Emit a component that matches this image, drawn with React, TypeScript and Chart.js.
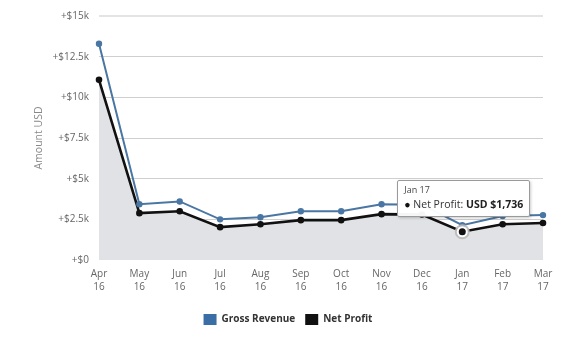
import React, { useEffect, useRef } from "react";
import { Chart, registerables } from "chart.js";

Chart.register(...registerables);

const categories: string[][] = [
  ["Apr", "16"], ["May", "16"], ["Jun", "16"], ["Jul", "16"], ["Aug", "16"], ["Sep", "16"],
  ["Oct", "16"], ["Nov", "16"], ["Dec", "16"], ["Jan", "17"], ["Feb", "17"], ["Mar", "17"],
];
const grossRevenue: number[] = [13290, 3430, 3600, 2500, 2630, 3000, 3000, 3430, 3400, 2140, 2700, 2760];
const netProfit: number[] = [11080, 2880, 3000, 2020, 2200, 2450, 2450, 2820, 2800, 1736, 2200, 2270];
const yTicks: number[] = [0, 2500, 5000, 7500, 10000, 12500, 15000];
const activeIndex = 9;

function fmtTick(v: number): string {
  if (v === 0) return "+$0";
  return "+$" + v / 1000 + "k";
}

const haloPlugin = {
  id: "halo",
  afterDatasetsDraw(chart: any) {
    const act = chart.getActiveElements();
    if (!act.length) return;
    const el = chart.getDatasetMeta(act[0].datasetIndex).data[act[0].index];
    const ctx = chart.ctx;
    ctx.save();
    ctx.beginPath();
    ctx.arc(el.x, el.y, 7.5, 0, Math.PI * 2);
    ctx.fillStyle = "rgba(185,185,185,0.9)";
    ctx.fill();
    ctx.beginPath();
    ctx.arc(el.x, el.y, 5.5, 0, Math.PI * 2);
    ctx.fillStyle = "#ffffff";
    ctx.fill();
    ctx.beginPath();
    ctx.arc(el.x, el.y, 3.5, 0, Math.PI * 2);
    ctx.fillStyle = "#111111";
    ctx.fill();
    ctx.restore();
  },
};

export default function App() {
  const canvasRef = useRef<HTMLCanvasElement | null>(null);
  const tipRef = useRef<HTMLDivElement | null>(null);

  useEffect(() => {
    document.body.style.margin = "0";
    const canvas = canvasRef.current!;
    const chart = new Chart(canvas, {
      type: "line",
      plugins: [haloPlugin],
      data: {
        labels: categories,
        datasets: [
          {
            label: "Gross Revenue",
            data: grossRevenue,
            borderColor: "#4a76a3",
            backgroundColor: "#4a76a3",
            pointBackgroundColor: "#4a76a3",
            pointBorderColor: "#4a76a3",
            borderWidth: 2,
            pointRadius: 2.2,
            pointHoverRadius: 2.2,
            tension: 0,
            fill: false,
          },
          {
            label: "Net Profit",
            data: netProfit,
            borderColor: "#111111",
            backgroundColor: "#e0e2e5",
            pointBackgroundColor: "#111111",
            pointBorderColor: "#111111",
            borderWidth: 2.6,
            pointRadius: 2,
            pointHoverRadius: 2,
            tension: 0,
            fill: "origin",
          },
        ],
      },
      options: {
        animation: false,
        responsive: false,
        layout: { padding: { left: 33, right: 31, top: 10, bottom: 17 } },
        interaction: { mode: "nearest", intersect: true },
        events: [],
        scales: {
          x: {
            offset: false,
            grid: { display: false },
            border: { display: false },
            ticks: {
              color: "#666",
              font: { size: 10, family: "'Open Sans', sans-serif", lineHeight: 1.3 },
              maxRotation: 0,
              autoSkip: false,
              padding: 0,
            },
            afterFit: (s: any) => {
              s.height = 44;
            },
          },
          y: {
            min: 0,
            max: 15000,
            afterBuildTicks: (s: any) => {
              s.ticks = yTicks.map((v) => ({ value: v }));
            },
            grid: {
              drawTicks: false,
              color: (ctx: any) =>
                ctx.tick && ctx.tick.value === 15000 ? "#e4e4e4" : ctx.tick && ctx.tick.value === 0 ? "rgba(0,0,0,0)" : "#cfcfcf",
              lineWidth: (ctx: any) => (ctx.tick && ctx.tick.value === 15000 ? 2 : 1),
            },
            border: { display: false },
            ticks: {
              color: "#666",
              font: { size: 10, family: "'Open Sans', sans-serif" },
              padding: 10,
              callback: (v: any) => fmtTick(Number(v)),
            },
            title: {
              display: true,
              text: "Amount USD",
              color: "#888",
              font: { size: 10.5, family: "'Open Sans', sans-serif" },
              padding: { top: 0, bottom: 0 },
            },
            afterFit: (s: any) => {
              s.width = 66;
            },
          },
        },
        plugins: {
          legend: {
            position: "bottom",
            labels: {
              boxWidth: 13,
              boxHeight: 11,
              padding: 10,
              color: "#333",
              font: { size: 10, weight: "bold", family: "'Open Sans', sans-serif" },
              generateLabels: (c: any) =>
                c.data.datasets.map((d: any, i: number) => ({
                  text: d.label,
                  fillStyle: i === 0 ? "#3a6ea5" : "#111111",
                  strokeStyle: i === 0 ? "#3a6ea5" : "#111111",
                  lineWidth: 0,
                  fontColor: "#333",
                  datasetIndex: i,
                  hidden: false,
                })),
            },
          },
          tooltip: {
            enabled: false,
            external: (context: any) => {
              const tip = tipRef.current;
              if (!tip) return;
              const t = context.tooltip;
              if (!t || t.opacity === 0 || !t.dataPoints || !t.dataPoints.length) {
                tip.style.opacity = "0";
                return;
              }
              const dp = t.dataPoints[0];
              const lbl = categories[dp.dataIndex].join(" ");
              const val = "USD $" + Math.round(dp.parsed.y).toLocaleString("en-US");
              tip.innerHTML =
                '<div style="font-size:9px;color:#444;margin-bottom:4px;">' + lbl + "</div>" +
                '<div style="font-size:10.5px;color:#333;white-space:nowrap;"><span style="color:#111;">\u25CF</span> ' +
                dp.dataset.label + ': <b style="color:#222;">' + val + "</b></div>";
              tip.style.opacity = "1";
              tip.style.left = t.caretX - 65 + "px";
              tip.style.top = t.caretY - 52 + "px";
            },
          },
        },
      },
    } as any);

    const act = [{ datasetIndex: 1, index: activeIndex }];
    const el = chart.getDatasetMeta(1).data[activeIndex] as any;
    chart.setActiveElements(act);
    chart.tooltip!.setActiveElements(act, { x: el.x, y: el.y });
    chart.update();

    return () => {
      chart.destroy();
    };
  }, []);

  return (
    <div style={{ position: "relative", width: 574, height: 352, fontFamily: "'Open Sans', sans-serif" }}>
      <canvas ref={canvasRef} width={574} height={352} style={{ width: 574, height: 352, display: "block" }} />
      <div
        ref={tipRef}
        style={{
          position: "absolute",
          opacity: 0,
          background: "rgba(255,255,255,0.96)",
          border: "1px solid #9a9a9a",
          borderRadius: 2,
          boxShadow: "1px 1px 3px rgba(0,0,0,0.2)",
          padding: "4px 7px 6px 6px",
          pointerEvents: "none",
          boxSizing: "border-box",
          width: 133,
          height: 37,
          lineHeight: 1.1,
        }}
      />
    </div>
  );
}
